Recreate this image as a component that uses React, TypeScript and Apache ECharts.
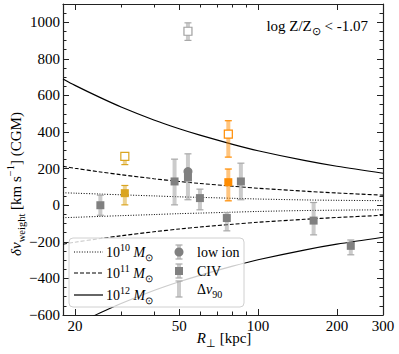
import React, { useEffect, useRef } from 'react';
import * as echarts from 'echarts';

// ---- axis ticks ----
const xMajorTicks = [20, 50, 100, 200, 300];
const xMinorTicks = [30, 40, 60, 70, 80, 90];
const yMajorTicks = [-600, -400, -200, 0, 200, 400, 600, 800, 1000];
const yMinorTicks = [-550, -500, -450, -350, -300, -250, -150, -100, -50, 50, 100, 150, 250, 300, 350, 450, 500, 550, 650, 700, 750, 850, 900, 950, 1050];

// ---- halo model curves ----
const curveR = [18, 20, 25, 30, 40, 50, 60, 80, 100, 150, 200, 300];
const halo10 = [68, 66, 61, 57, 51, 46, 43, 38, 34, 29, 27, 25];
const halo11 = [213, 202, 182, 167, 145, 130, 119, 104, 93, 77, 67, 55];
const halo12 = [690, 655, 588, 537, 466, 418, 383, 333, 298, 245, 213, 175];

// ---- CIV (gray filled squares) ----
const civR = [25, 48, 54, 60, 76, 86, 163, 226];
const civV = [0, 130, 152, 39, -70, 130, -84, -222];
const civLo = [-55, 2, 30, -25, -140, 30, -162, -271];
const civHi = [55, 252, 281, 88, -40, 230, 15, -190];

// ---- low ion (gray circle) ----
const lowR = [54];
const lowV = [184];

// ---- gray open square ----
const grayOpenR = [54];
const grayOpenV = [951];
const grayOpenLo = [901];
const grayOpenHi = [997];

// ---- goldenrod ----
const goldR = [31];
const goldV = [66];
const goldLo = [2];
const goldHi = [108];
const goldOpenR = [31];
const goldOpenV = [267];
const goldOpenLo = [222];
const goldOpenHi = [275];

// ---- orange ----
const orangeR = [77];
const orangeV = [126];
const orangeLo = [24];
const orangeHi = [198];
const orangeOpenR = [77];
const orangeOpenV = [389];
const orangeOpenLo = [263];
const orangeOpenHi = [462];

const FONT = 'Liberation Serif';
const AX = '#222';
const GRAY = '#808080';
const GOLD = '#DAA520';
const ORANGE = '#FF8C00';

const lg = Math.log10;

function errSeries(R: number[], lo: number[], hi: number[], bar: string, cap: string) {
  return {
    type: 'custom',
    xAxisIndex: 0,
    yAxisIndex: 0,
    z: 3,
    data: R.map((r, i) => [lg(r), lo[i], hi[i]]),
    encode: { x: 0, y: [1, 2] },
    renderItem: (params: any, api: any) => {
      const x = api.value(0);
      const pLo = api.coord([x, api.value(1)]);
      const pHi = api.coord([x, api.value(2)]);
      const cx = pLo[0];
      return {
        type: 'group',
        children: [
          { type: 'rect', shape: { x: cx - 2, y: pHi[1], width: 4, height: pLo[1] - pHi[1] }, style: { fill: bar } },
          { type: 'line', shape: { x1: cx - 3.5, y1: pHi[1], x2: cx + 3.5, y2: pHi[1] }, style: { stroke: cap, lineWidth: 1.2 } },
          { type: 'line', shape: { x1: cx - 3.5, y1: pLo[1], x2: cx + 3.5, y2: pLo[1] }, style: { stroke: cap, lineWidth: 1.2 } },
        ],
      };
    },
  };
}

function markSeries(R: number[], V: number[], symbol: string, size: number, fill: string, border?: string) {
  return {
    type: 'scatter',
    xAxisIndex: 0,
    yAxisIndex: 0,
    z: 4,
    symbol,
    symbolSize: size,
    data: R.map((r, i) => [lg(r), V[i]]),
    itemStyle: border ? { color: fill, borderColor: border, borderWidth: 1.2, opacity: 1 } : { color: fill, opacity: 1 },
  };
}

function curveSeries(vals: number[], sign: number, type: any, width: number) {
  return {
    type: 'line',
    xAxisIndex: 0,
    yAxisIndex: 0,
    z: 2,
    smooth: 0.3,
    showSymbol: false,
    silent: true,
    clip: true,
    data: curveR.map((r, i) => [lg(r), sign * vals[i]]),
    lineStyle: { color: '#000', width, type },
  };
}

const rich = {
  n: { fontFamily: FONT, fontSize: 14, color: '#000', lineHeight: 20, verticalAlign: 'middle' },
  i: { fontFamily: FONT, fontSize: 14, fontStyle: 'italic', color: '#000', lineHeight: 20, verticalAlign: 'middle' },
  sup: { fontFamily: FONT, fontSize: 10, color: '#000', lineHeight: 10, verticalAlign: 'top' },
  sub: { fontFamily: FONT, fontSize: 10, color: '#000', lineHeight: 10, verticalAlign: 'bottom' },
};
const richBig = {
  n: { fontFamily: FONT, fontSize: 15, color: '#000', lineHeight: 22, verticalAlign: 'middle' },
  i: { fontFamily: FONT, fontSize: 15, fontStyle: 'italic', color: '#000', lineHeight: 22, verticalAlign: 'middle' },
  sup: { fontFamily: FONT, fontSize: 10.5, color: '#000', lineHeight: 11, verticalAlign: 'top' },
  sub: { fontFamily: FONT, fontSize: 10.5, color: '#000', lineHeight: 11, verticalAlign: 'bottom' },
};

export default function App() {
  const ref = useRef<HTMLDivElement>(null);
  useEffect(() => {
    if (!ref.current) return;
    const chart = echarts.init(ref.current, undefined, { renderer: 'svg' });
    const xMin = lg(18);
    const xMax = lg(300);
    const fmtX = (v: number) => String(Math.round(Math.pow(10, v)));
    const fmtY = (v: number) => (v < 0 ? '\u2212' + Math.abs(v) : String(v));
    const tickStyle = { color: AX, width: 1 };
    const xAxisBase = { type: 'value', min: xMin, max: xMax, splitLine: { show: false }, gridIndex: 0 };
    const yAxisBase = { type: 'value', min: -600, max: 1100, splitLine: { show: false }, gridIndex: 0 };
    const lineOn = { show: true, onZero: false, lineStyle: { color: AX, width: 1.2 } };
    const lineOff = { show: false, onZero: false };
    const option: any = {
      animation: false,
      textStyle: { fontFamily: FONT },
      grid: { left: 63, top: 4, width: 320, height: 311, containLabel: false },
      xAxis: [
        {
          ...xAxisBase,
          position: 'bottom',
          axisLine: lineOn,
          axisTick: { show: true, inside: true, length: 6, lineStyle: tickStyle, customValues: xMajorTicks.map(lg) },
          axisLabel: { show: true, customValues: xMajorTicks.map(lg), formatter: fmtX, color: '#000', fontSize: 15, fontFamily: FONT, margin: 3 },
        },
        {
          ...xAxisBase,
          position: 'bottom',
          axisLine: lineOff,
          axisTick: { show: true, inside: true, length: 3.5, lineStyle: tickStyle, customValues: xMinorTicks.map(lg) },
          axisLabel: { show: false, customValues: xMinorTicks.map(lg) },
        },
        {
          ...xAxisBase,
          position: 'top',
          axisLine: lineOn,
          axisTick: { show: true, inside: true, length: 6, lineStyle: tickStyle, customValues: xMajorTicks.map(lg) },
          axisLabel: { show: false, customValues: xMajorTicks.map(lg) },
        },
        {
          ...xAxisBase,
          position: 'top',
          axisLine: lineOff,
          axisTick: { show: true, inside: true, length: 3.5, lineStyle: tickStyle, customValues: xMinorTicks.map(lg) },
          axisLabel: { show: false, customValues: xMinorTicks.map(lg) },
        },
      ],
      yAxis: [
        {
          ...yAxisBase,
          position: 'left',
          axisLine: lineOn,
          axisTick: { show: true, inside: true, length: 6, lineStyle: tickStyle, customValues: yMajorTicks },
          axisLabel: { show: true, customValues: yMajorTicks, formatter: fmtY, color: '#000', fontSize: 15, fontFamily: FONT, margin: 3 },
        },
        {
          ...yAxisBase,
          position: 'left',
          axisLine: lineOff,
          axisTick: { show: true, inside: true, length: 3.5, lineStyle: tickStyle, customValues: yMinorTicks },
          axisLabel: { show: false, customValues: yMinorTicks },
        },
        {
          ...yAxisBase,
          position: 'right',
          axisLine: lineOn,
          axisTick: { show: true, inside: true, length: 6, lineStyle: tickStyle, customValues: yMajorTicks },
          axisLabel: { show: false, customValues: yMajorTicks },
        },
        {
          ...yAxisBase,
          position: 'right',
          axisLine: lineOff,
          axisTick: { show: true, inside: true, length: 3.5, lineStyle: tickStyle, customValues: yMinorTicks },
          axisLabel: { show: false, customValues: yMinorTicks },
        },
      ],
      series: [
        curveSeries(halo10, 1, [1, 1.6], 1),
        curveSeries(halo10, -1, [1, 1.6], 1),
        curveSeries(halo11, 1, [4, 2], 1.1),
        curveSeries(halo11, -1, [4, 2], 1.1),
        curveSeries(halo12, 1, 'solid', 1.2),
        curveSeries(halo12, -1, 'solid', 1.2),
        errSeries(civR, civLo, civHi, 'rgba(160,160,160,0.55)', '#a8a8a8'),
        errSeries(grayOpenR, grayOpenLo, grayOpenHi, 'rgba(160,160,160,0.55)', '#a8a8a8'),
        errSeries(goldR, goldLo, goldHi, 'rgba(218,165,32,0.5)', GOLD),
        errSeries(goldOpenR, goldOpenLo, goldOpenHi, 'rgba(218,165,32,0.5)', GOLD),
        errSeries(orangeR, orangeLo, orangeHi, 'rgba(255,140,0,0.5)', ORANGE),
        errSeries(orangeOpenR, orangeOpenLo, orangeOpenHi, 'rgba(255,140,0,0.5)', ORANGE),
        markSeries(lowR, lowV, 'circle', 9, GRAY),
        markSeries(civR, civV, 'rect', 8, GRAY),
        markSeries(grayOpenR, grayOpenV, 'rect', 8, '#fff', '#a0a0a0'),
        markSeries(goldR, goldV, 'rect', 8, GOLD),
        markSeries(goldOpenR, goldOpenV, 'rect', 8, '#fff', GOLD),
        markSeries(orangeR, orangeV, 'rect', 8, ORANGE),
        markSeries(orangeOpenR, orangeOpenV, 'rect', 8, '#fff', ORANGE),
      ],
      graphic: [
        {
          type: 'text', x: 368, y: 26, z: 100,
          style: { text: '{n|log Z/Z}{sub|\u2299}{n| < -1.07}', rich: richBig, align: 'right', verticalAlign: 'middle' },
        },
        {
          type: 'text', x: 16, y: 184, rotation: Math.PI / 2, z: 100,
          style: { text: '{i|\u03B4v}{sub|weight}{n| [km s}{sup|\u22121}{n|] (CGM)}', rich: richBig, align: 'center', verticalAlign: 'middle' },
        },
        {
          type: 'text', x: 224, y: 338, z: 100,
          style: { text: '{i|R}{sub|\u22A5}{n| [kpc]}', rich: richBig, align: 'center', verticalAlign: 'middle' },
        },
        {
          type: 'group', z: 100,
          children: [
            { type: 'rect', shape: { x: 69, y: 238, width: 175, height: 69, r: 4 }, style: { fill: 'rgba(255,255,255,0.8)', stroke: '#d0d0d0', lineWidth: 1 }, z: 100 },
            { type: 'line', shape: { x1: 74, y1: 252, x2: 103, y2: 252 }, style: { stroke: '#000', lineWidth: 1, lineDash: [1, 1.6] }, z: 101 },
            { type: 'line', shape: { x1: 74, y1: 273, x2: 103, y2: 273 }, style: { stroke: '#000', lineWidth: 1.1, lineDash: [4, 2] }, z: 101 },
            { type: 'line', shape: { x1: 74, y1: 295, x2: 103, y2: 295 }, style: { stroke: '#000', lineWidth: 1.2 }, z: 101 },
            { type: 'text', x: 106, y: 252, z: 101, style: { text: '{n|10}{sup|10}{n| }{i|M}{sub|\u2299}', rich, align: 'left', verticalAlign: 'middle' } },
            { type: 'text', x: 106, y: 273, z: 101, style: { text: '{n|10}{sup|11}{n| }{i|M}{sub|\u2299}', rich, align: 'left', verticalAlign: 'middle' } },
            { type: 'text', x: 106, y: 295, z: 101, style: { text: '{n|10}{sup|12}{n| }{i|M}{sub|\u2299}', rich, align: 'left', verticalAlign: 'middle' } },
            { type: 'rect', shape: { x: 177, y: 245, width: 4, height: 14 }, style: { fill: 'rgba(160,160,160,0.55)' }, z: 101 },
            { type: 'line', shape: { x1: 175.5, y1: 245, x2: 182.5, y2: 245 }, style: { stroke: '#a8a8a8', lineWidth: 1.2 }, z: 101 },
            { type: 'line', shape: { x1: 175.5, y1: 259, x2: 182.5, y2: 259 }, style: { stroke: '#a8a8a8', lineWidth: 1.2 }, z: 101 },
            { type: 'circle', shape: { cx: 179, cy: 252, r: 4.5 }, style: { fill: GRAY }, z: 102 },
            { type: 'rect', shape: { x: 177, y: 264, width: 4, height: 14 }, style: { fill: 'rgba(160,160,160,0.55)' }, z: 101 },
            { type: 'line', shape: { x1: 175.5, y1: 264, x2: 182.5, y2: 264 }, style: { stroke: '#a8a8a8', lineWidth: 1.2 }, z: 101 },
            { type: 'line', shape: { x1: 175.5, y1: 278, x2: 182.5, y2: 278 }, style: { stroke: '#a8a8a8', lineWidth: 1.2 }, z: 101 },
            { type: 'rect', shape: { x: 175, y: 267, width: 8, height: 8 }, style: { fill: GRAY }, z: 102 },
            { type: 'rect', shape: { x: 177, y: 281, width: 4, height: 16 }, style: { fill: 'rgba(160,160,160,0.55)' }, z: 101 },
            { type: 'line', shape: { x1: 175.5, y1: 281, x2: 182.5, y2: 281 }, style: { stroke: '#a8a8a8', lineWidth: 1.2 }, z: 101 },
            { type: 'line', shape: { x1: 175.5, y1: 297, x2: 182.5, y2: 297 }, style: { stroke: '#a8a8a8', lineWidth: 1.2 }, z: 101 },
            { type: 'text', x: 197, y: 252, z: 101, style: { text: '{n|low ion}', rich, align: 'left', verticalAlign: 'middle' } },
            { type: 'text', x: 197, y: 271, z: 101, style: { text: '{n|CIV}', rich, align: 'left', verticalAlign: 'middle' } },
            { type: 'text', x: 197, y: 289, z: 101, style: { text: '{n|\u0394}{i|v}{sub|90}', rich, align: 'left', verticalAlign: 'middle' } },
          ],
        },
      ],
    };
    chart.setOption(option);
    return () => chart.dispose();
  }, []);
  return <div ref={ref} style={{ position: 'fixed', left: 0, top: 0, width: 399, height: 354, background: '#fff' }} />;
}
